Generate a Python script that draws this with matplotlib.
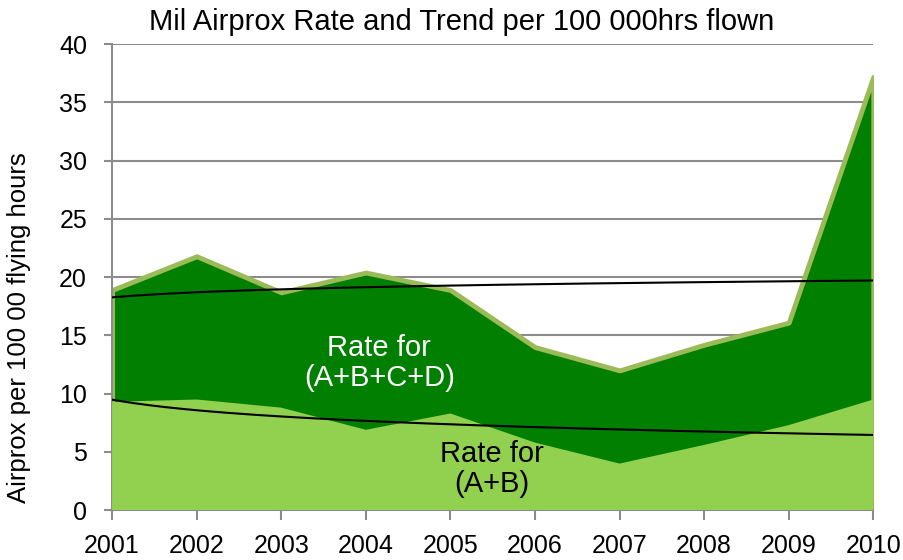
import matplotlib.pyplot as plt
import numpy as np

plt.rcParams['font.family'] = ['Liberation Sans', 'DejaVu Sans']

years = [2001, 2002, 2003, 2004, 2005, 2006, 2007, 2008, 2009, 2010]
rate_abcd = [18.9, 21.8, 18.7, 20.4, 18.9, 14.0, 12.0, 14.2, 16.1, 37.2]
rate_ab = [9.3, 9.5, 8.8, 6.9, 8.3, 5.8, 4.0, 5.6, 7.3, 9.5]

fig = plt.figure(figsize=(9.04, 5.6), dpi=100)
ax = fig.add_axes([0.124, 0.089, 0.842, 0.832])

x = np.array(years)
ax.fill_between(x, 0, rate_abcd, facecolor="#007f00", edgecolor="#9bbb59", linewidth=3.5, zorder=2)
ax.fill_between(x, 0, rate_ab, facecolor="#92d050", edgecolor="none", zorder=3)

# logarithmic trend lines (fit y = a + b*ln(n))
n = np.arange(1, len(years) + 1)
xs = np.linspace(1, len(years), 200)
for series in (rate_abcd, rate_ab):
    b, a = np.polyfit(np.log(n), series, 1)
    ax.plot(xs + years[0] - 1, a + b * np.log(xs), color="black", lw=1.5, zorder=4)

ax.set_xlim(2001, 2010)
ax.set_ylim(0, 40)
ax.set_xticks(years)
ax.set_yticks(range(0, 41, 5))
ax.grid(axis="y", color="#8c8c8c", lw=1.5, zorder=1)
ax.set_axisbelow(True)
for s in ("top", "right"):
    ax.spines[s].set_visible(False)
for s in ("left", "bottom"):
    ax.spines[s].set_color("#8c8c8c")
    ax.spines[s].set_linewidth(1.5)
ax.tick_params(axis="x", colors="#8c8c8c", labelcolor="black", labelsize=18, length=7, width=1.5, pad=10)
ax.tick_params(axis="y", colors="#8c8c8c", labelcolor="black", labelsize=18, length=6, width=1.5, pad=12)

ax.set_ylabel("Airprox per 100 00 flying hours", fontsize=18.5)
ax.yaxis.set_label_coords(-0.106, 0.392)
fig.text(0.511, 0.96, "Mil Airprox Rate and Trend per 100 000hrs flown", ha="center", va="center", fontsize=21)

ax.text(2004.16, 12.6, "Rate for\n(A+B+C+D)", color="white", ha="center", va="center",
        fontsize=21, linespacing=1.1, zorder=5)
ax.text(2005.49, 3.5, "Rate for\n(A+B)", color="black", ha="center", va="center",
        fontsize=21, linespacing=1.1, zorder=5)

fig.savefig("out.png", dpi=100)
